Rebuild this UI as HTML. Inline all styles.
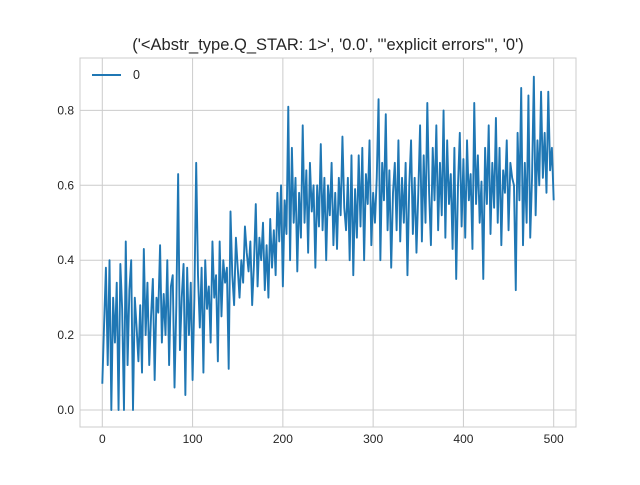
<!DOCTYPE html>
<html><head><meta charset="utf-8"><style>
body{margin:0;background:#fff;font-family:"Liberation Sans","DejaVu Sans",sans-serif}
</style></head><body>
<svg id="chart" width="640" height="480" xmlns="http://www.w3.org/2000/svg"></svg>
<script>
const xTicks=[0,100,200,300,400,500];
const yTicks=[0.0,0.2,0.4,0.6,0.8];
const yTickLabels=["0.0","0.2","0.4","0.6","0.8"];
const step=2;
const values=[0.07,0.23,0.38,0.12,0.40,0.0,0.30,0.18,0.34,0.0,0.39,0.27,0.0,0.45,0.12,0.32,0.40,0.0,0.30,0.22,0.13,0.28,0.10,0.43,0.20,0.34,0.12,0.25,0.35,0.08,0.30,0.26,0.44,0.18,0.31,0.20,0.40,0.12,0.33,0.36,0.06,0.28,0.63,0.16,0.30,0.39,0.04,0.38,0.20,0.34,0.08,0.30,0.66,0.36,0.22,0.38,0.10,0.40,0.27,0.33,0.18,0.45,0.30,0.36,0.13,0.45,0.25,0.40,0.34,0.38,0.11,0.53,0.36,0.28,0.46,0.38,0.30,0.40,0.34,0.49,0.42,0.37,0.45,0.28,0.39,0.55,0.33,0.46,0.40,0.50,0.32,0.44,0.30,0.51,0.38,0.48,0.36,0.58,0.45,0.60,0.33,0.56,0.47,0.81,0.40,0.70,0.50,0.62,0.37,0.58,0.46,0.76,0.50,0.64,0.42,0.66,0.53,0.60,0.38,0.60,0.49,0.71,0.48,0.62,0.40,0.60,0.52,0.66,0.44,0.58,0.43,0.62,0.52,0.73,0.54,0.48,0.62,0.40,0.68,0.36,0.59,0.46,0.68,0.49,0.70,0.40,0.63,0.55,0.72,0.44,0.58,0.50,0.62,0.83,0.40,0.66,0.56,0.79,0.48,0.64,0.38,0.58,0.66,0.48,0.72,0.45,0.62,0.50,0.66,0.36,0.60,0.72,0.47,0.62,0.42,0.58,0.76,0.45,0.68,0.50,0.82,0.58,0.44,0.70,0.56,0.76,0.48,0.66,0.52,0.80,0.46,0.72,0.55,0.63,0.43,0.70,0.35,0.60,0.74,0.49,0.67,0.46,0.72,0.56,0.63,0.43,0.82,0.55,0.68,0.50,0.61,0.35,0.70,0.55,0.76,0.47,0.66,0.54,0.78,0.50,0.70,0.44,0.64,0.58,0.72,0.48,0.66,0.62,0.60,0.32,0.74,0.56,0.86,0.44,0.66,0.50,0.84,0.46,0.62,0.89,0.52,0.72,0.60,0.85,0.62,0.74,0.58,0.85,0.64,0.70,0.56,0.68,0.60];
const X=v=>102.3+v*0.9028;
const Y=v=>410-v*374.5;
const svg=document.getElementById('chart');
const NS="http://www.w3.org/2000/svg";
function mk(t,a){const e=document.createElementNS(NS,t);for(const k in a)e.setAttribute(k,a[k]);svg.appendChild(e);return e;}
const bg=mk('rect',{x:80,y:58,width:496,height:369,fill:'#fff'});


xTicks.forEach(t=>{
 const g=mk('line',{x1:X(t),x2:X(t),y1:58,y2:427,stroke:'#cccccc','stroke-width':1});
 
 
 const l=mk('text',{x:X(t),y:443,'text-anchor':'middle','font-size':'12',fill:'#262626'});
 l.textContent=t;
 
 
});
yTicks.forEach((t,i)=>{
 const g=mk('line',{x1:80,x2:576,y1:Y(t),y2:Y(t),stroke:'#cccccc','stroke-width':1});
 
 
 const l=mk('text',{x:74,y:Y(t)+4,'text-anchor':'end','font-size':'12',fill:'#262626'});
 l.textContent=yTickLabels[i];
 
 
});
const fr=mk('rect',{x:80,y:58,width:496,height:369,fill:'none',stroke:'#cccccc','stroke-width':1});


const n=Math.min(values.length,Math.floor(500/step)+1);
const pts=values.slice(0,n).map((v,i)=>X(i*step).toFixed(2)+','+Y(v).toFixed(2)).join(' ');
const line=mk('polyline',{points:pts,fill:'none',stroke:'#1f77b4','stroke-width':1.9,'stroke-linejoin':'round'});


const ll=mk('line',{x1:92,x2:121,y1:75,y2:75,stroke:'#1f77b4','stroke-width':1.9});


const lt=mk('text',{x:133,y:79,'font-size':'12.5',fill:'#262626'});
lt.textContent='0';


const title=mk('text',{x:328,y:50,'text-anchor':'middle','font-size':'16.5',fill:'#262626'});
title.textContent="('<Abstr_type.Q_STAR: 1>', '0.0', '\"explicit errors\"', '0')";


</script>
</body></html>
